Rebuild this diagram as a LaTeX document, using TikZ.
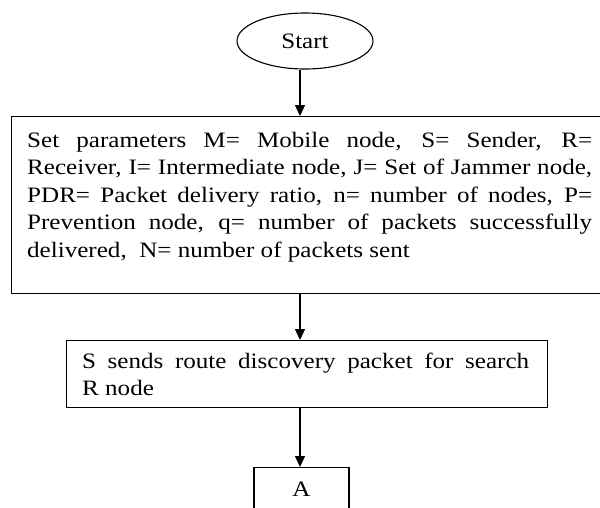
\documentclass[tikz,border=0pt]{standalone}
\usepackage{fontspec}
\setmainfont{Liberation Serif}[FakeStretch=1.14]
\usetikzlibrary{arrows.meta,shapes.geometric}
% one line stretched to the full text width
\newcommand\fillline[1]{\makebox[\linewidth][s]{#1}}
\newcommand\flowfont{\fontsize{22}{27.5}\selectfont}
\begin{document}
\begin{tikzpicture}[x=1pt,y=-1pt,
  frame/.style={draw=black, line width=1.2pt, inner sep=0pt, rectangle},
  link/.style={draw=black, line width=1.1pt, -{Triangle[length=11pt,width=10pt]}},
  body/.style={inner sep=0pt, anchor=base west, font=\flowfont}]
\useasboundingbox (0,0) rectangle (600,507);
\clip (0,0) rectangle (600,507);

% start terminal
\node[ellipse, draw=black, line width=1.1pt, minimum width=136pt,
      minimum height=56pt, inner sep=0pt, font=\flowfont] (start) at (305,41) {Start};

% parameter block
\node[frame, anchor=north west, minimum width=600pt, minimum height=177pt] (params) at (11,116) {};
\node[body] (paramstext) at (27,147) {\parbox[t]{565pt}{\flowfont
\fillline{Set parameters M= Mobile node, S= Sender, R=}\\
\fillline{Receiver, I= Intermediate node, J= Set of Jammer node,}\\
\fillline{PDR= Packet delivery ratio, n= number of nodes, P=}\\
\fillline{Prevention node, q= number of packets successfully}\\
delivered,\ \ N= number of packets sent}};

% route discovery block
\node[frame, anchor=north west, minimum width=481pt, minimum height=67pt] (send) at (66,340) {};
\node[body] (sendtext) at (82,368) {\parbox[t]{447pt}{\flowfont
\fillline{S sends route discovery packet for search}\\
R node}};

% connector A
\node[frame, anchor=north, minimum width=95pt, text height=15pt, text depth=40pt,
      inner ysep=14pt, font=\flowfont] (a) at (301.5,467) {A};

% vertical flow line
\coordinate (spine) at (300,0);
\draw[link] (start.south -| spine) -- (params.north -| spine);
\draw[link] (params.south -| spine) -- (send.north -| spine);
\draw[link] (send.south -| spine) -- (a.north -| spine);
\end{tikzpicture}
\end{document}
